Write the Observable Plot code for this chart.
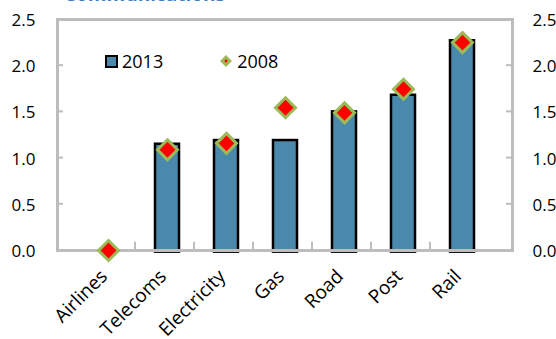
<!DOCTYPE html>
<html>
<head>
<meta charset="utf-8">
<script src="https://cdn.jsdelivr.net/npm/d3@7"></script>
<script src="https://cdn.jsdelivr.net/npm/@observablehq/plot@0.6"></script>
<style>
  html, body { margin: 0; padding: 0; background: #fff; }
  #wrap { position: relative; width: 556px; height: 339px; overflow: hidden; font-family: "Open Sans", sans-serif; }
  #title { position: absolute; left: 64px; top: -19px; font-size: 19px; font-weight: bold; color: #3A7FC1; white-space: nowrap; }
  #legend { position: absolute; left: 105px; top: 49px; font-size: 18px; color: #000; display: flex; align-items: center; }
  #legend .item { display: flex; align-items: center; }
  #legend .sq { width: 9px; height: 9px; background: #4A89AC; border: 2px solid #000; margin-right: 4px; }
  #legend svg { margin-left: 56px; margin-right: 4px; }
</style>
</head>
<body>
<div id="wrap">
  <div id="title">Communications</div>
  <div id="legend">
    <div class="item"><div class="sq"></div><span>2013</span></div>
    <div class="item"><svg width="14" height="14" viewBox="-7 -7 14 14"><path d="M0,-6L6,0L0,6L-6,0Z" fill="#9BBB59"/><circle r="1.4" fill="#FF0000"/></svg><span>2008</span></div>
  </div>
  <div id="chart"></div>
</div>
<script>
const categories = ["Airlines", "Telecoms", "Electricity", "Gas", "Road", "Post", "Rail"];
const values2013 = [0, 1.15, 1.19, 1.19, 1.50, 1.68, 2.27];
const values2008 = [0, 1.09, 1.16, 1.545, 1.49, 1.745, 2.25];
const yTicks = [0, 0.5, 1.0, 1.5, 2.0, 2.5];

const bars = categories.map((c, i) => ({category: c, value: values2013[i]})).filter(d => d.value > 0);
const points = categories.map((c, i) => ({category: c, value: values2008[i]}));

const grey = "#BDBDBD";
const fmt = d3.format(".1f");
const chart = Plot.plot({
  width: 556,
  height: 339,
  marginLeft: 57,
  marginRight: 44,
  marginTop: 19,
  marginBottom: 89,
  style: {fontFamily: "Open Sans, sans-serif", fontSize: "17px", color: "#000", background: "transparent"},
  x: {domain: categories, padding: 0.6, align: 0.5, label: null, axis: null},
  y: {domain: [0, 2.5], label: null, axis: null},
  marks: [
    Plot.barY(bars, {x: "category", y1: -0.018, y2: "value", fill: "#4A89AC", stroke: "#000", strokeWidth: 2.5}),
    Plot.frame({stroke: grey, strokeWidth: 3}),
    Plot.tickY(yTicks.slice(1, -1), {y: d => d, render: (index, scales, values, dims) => {
      const g = d3.create("svg:g");
      const x0 = dims.marginLeft, x1 = dims.width - dims.marginRight;
      for (const i of index) {
        const yy = values.y[i];
        g.append("line").attr("x1", x0).attr("x2", x0 + 6).attr("y1", yy).attr("y2", yy).attr("stroke", grey).attr("stroke-width", 2);
        g.append("line").attr("x1", x1 - 6).attr("x2", x1).attr("y1", yy).attr("y2", yy).attr("stroke", grey).attr("stroke-width", 2);
      }
      return g.node();
    }}),
    Plot.text(yTicks, {y: d => d, text: d => fmt(d), frameAnchor: "left", textAnchor: "end", dx: -22, dy: 1, fontSize: 17, fill: "#000"}),
    Plot.text(yTicks, {y: d => d, text: d => fmt(d), frameAnchor: "right", textAnchor: "start", dx: 20, dy: 1, fontSize: 17, fill: "#000"}),
    Plot.ruleX(categories.slice(1), {x: d => d, dx: -32.5, y1: 0, y2: 0.09, stroke: grey, strokeWidth: 2}),
    Plot.text(categories, {x: d => d, text: d => d, frameAnchor: "bottom", rotate: -45, textAnchor: "end", dy: 27, dx: 0, fontSize: 19, fill: "#000"}),
    Plot.dot(points, {x: "category", y: "value", symbol: "diamond2", r: 9, fill: "#FF0000", stroke: "#9BBB59", strokeWidth: 3})
  ]
});
document.getElementById("chart").appendChild(chart);
</script>
</body>
</html>
